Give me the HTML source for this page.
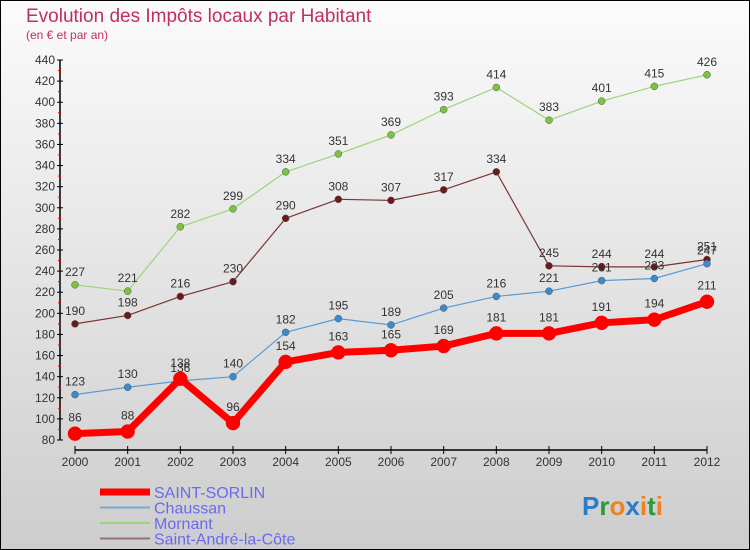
<!DOCTYPE html>
<html><head><meta charset="utf-8"><style>
body{margin:0}
#c{width:750px;height:550px;position:relative;box-sizing:border-box;border:1px solid #000;background:linear-gradient(#fbfbfb,#cdcdcd);font-family:"Liberation Sans",sans-serif;overflow:hidden}
</style></head><body>
<div id="c">
<svg width="750" height="550" style="position:absolute;left:-1px;top:-1px" id="s">
<text x="26" y="22" font-size="19" fill="#c0305a">Evolution des Impôts locaux par Habitant</text>
<text x="26" y="39" font-size="12" fill="#c0305a">(en € et par an)</text>
</svg>
</div>
<script>
const years=[2000,2001,2002,2003,2004,2005,2006,2007,2008,2009,2010,2011,2012];
const sorlin=[86,88,138,96,154,163,165,169,181,181,191,194,211];
const chaussan=[123,130,136,140,182,195,189,205,216,221,231,233,247];
const mornant=[227,221,282,299,334,351,369,393,414,383,401,415,426];
const andre=[190,198,216,230,290,308,307,317,334,245,244,244,251];
const yTicks=[80,100,120,140,160,180,200,220,240,260,280,300,320,340,360,380,400,420,440];
const svg=document.getElementById('s');const NS='http://www.w3.org/2000/svg';
const X=i=>75+i*(632/12);const Y=v=>440-(v-80)*(380/360);
function el(t,a,p){const e=document.createElementNS(NS,t);for(const k in a)e.setAttribute(k,a[k]);(p||svg).appendChild(e);return e;}
let ax=el('line',{x1:60,y1:Y(440),x2:60,y2:440,stroke:'#000','stroke-width':1.5});


yTicks.forEach((v,i)=>{
 el('line',{x1:57,x2:63,y1:Y(v),y2:Y(v),stroke:'#000'});
 if(i<yTicks.length-1)el('line',{x1:58,x2:61,y1:Y(v+10),y2:Y(v+10),stroke:'#e00'});
 const t=el('text',{x:55,y:Y(v)+4,'font-size':12,fill:'#333','text-anchor':'end'});t.textContent=v;
 
 
});
let xa=el('line',{x1:75,y1:450,x2:707,y2:450,stroke:'#000','stroke-width':1.5});


years.forEach((y,i)=>{
 el('line',{x1:X(i),x2:X(i),y1:446,y2:454,stroke:'#000'});
 const t=el('text',{x:X(i),y:466,'font-size':12,fill:'#333','text-anchor':'middle'});t.textContent=y;
 
 
});
function series(d,col,dot,w,r,name){
 const g=el('g',{});
 
 
 el('polyline',{points:d.map((v,i)=>X(i)+','+Y(v)).join(' '),fill:'none',stroke:col,'stroke-width':w,'stroke-linejoin':'round'},g);
 d.forEach((v,i)=>{
  const c=el('circle',{cx:X(i),cy:Y(v),r:r,fill:dot,stroke:w>3?dot:'#555','stroke-width':0.5},g);
  
  
  const t=el('text',{x:X(i),y:Y(v)-(w>3?12:9),'font-size':12,fill:'#333','text-anchor':'middle'},g);t.textContent=v;
  
  
 });
}
series(mornant,'#9cd47c','#7cc440',1.2,3.5,'mornant-series');
series(andre,'#7a3434','#6a1a1a',1.2,3.5,'saint-andre-series');
series(chaussan,'#5a9ad4','#3a8ad0',1.2,3.5,'chaussan-series');
series(sorlin,'#f00','#f00',7,7,'saint-sorlin-series');
const leg=[['SAINT-SORLIN','#f00',7],['Chaussan','#7aa8d0',2],['Mornant','#9cd47c',2],['Saint-André-la-Côte','#957070',2]];
leg.forEach((l,i)=>{
 const y=492+i*15.5;
 const g=el('g',{});
 
 
 el('line',{x1:100,x2:150,y1:y,y2:y,stroke:l[1],'stroke-width':l[2]},g);
 const t=el('text',{x:154,y:y+6,'font-size':16,fill:'#6a6af0'},g);t.textContent=l[0];
});
const p=el('text',{x:582,y:515,'font-size':26,'font-weight':'bold'});


[['P','#2a7ad0'],['r','#2a9a3a'],['o','#f08020'],['x','#2a7ad0'],['i','#f08020'],['t','#2a9a3a'],['i','#f08020']].forEach(c=>{const s=el('tspan',{fill:c[1]},p);s.textContent=c[0];});
</script>
</body></html>
